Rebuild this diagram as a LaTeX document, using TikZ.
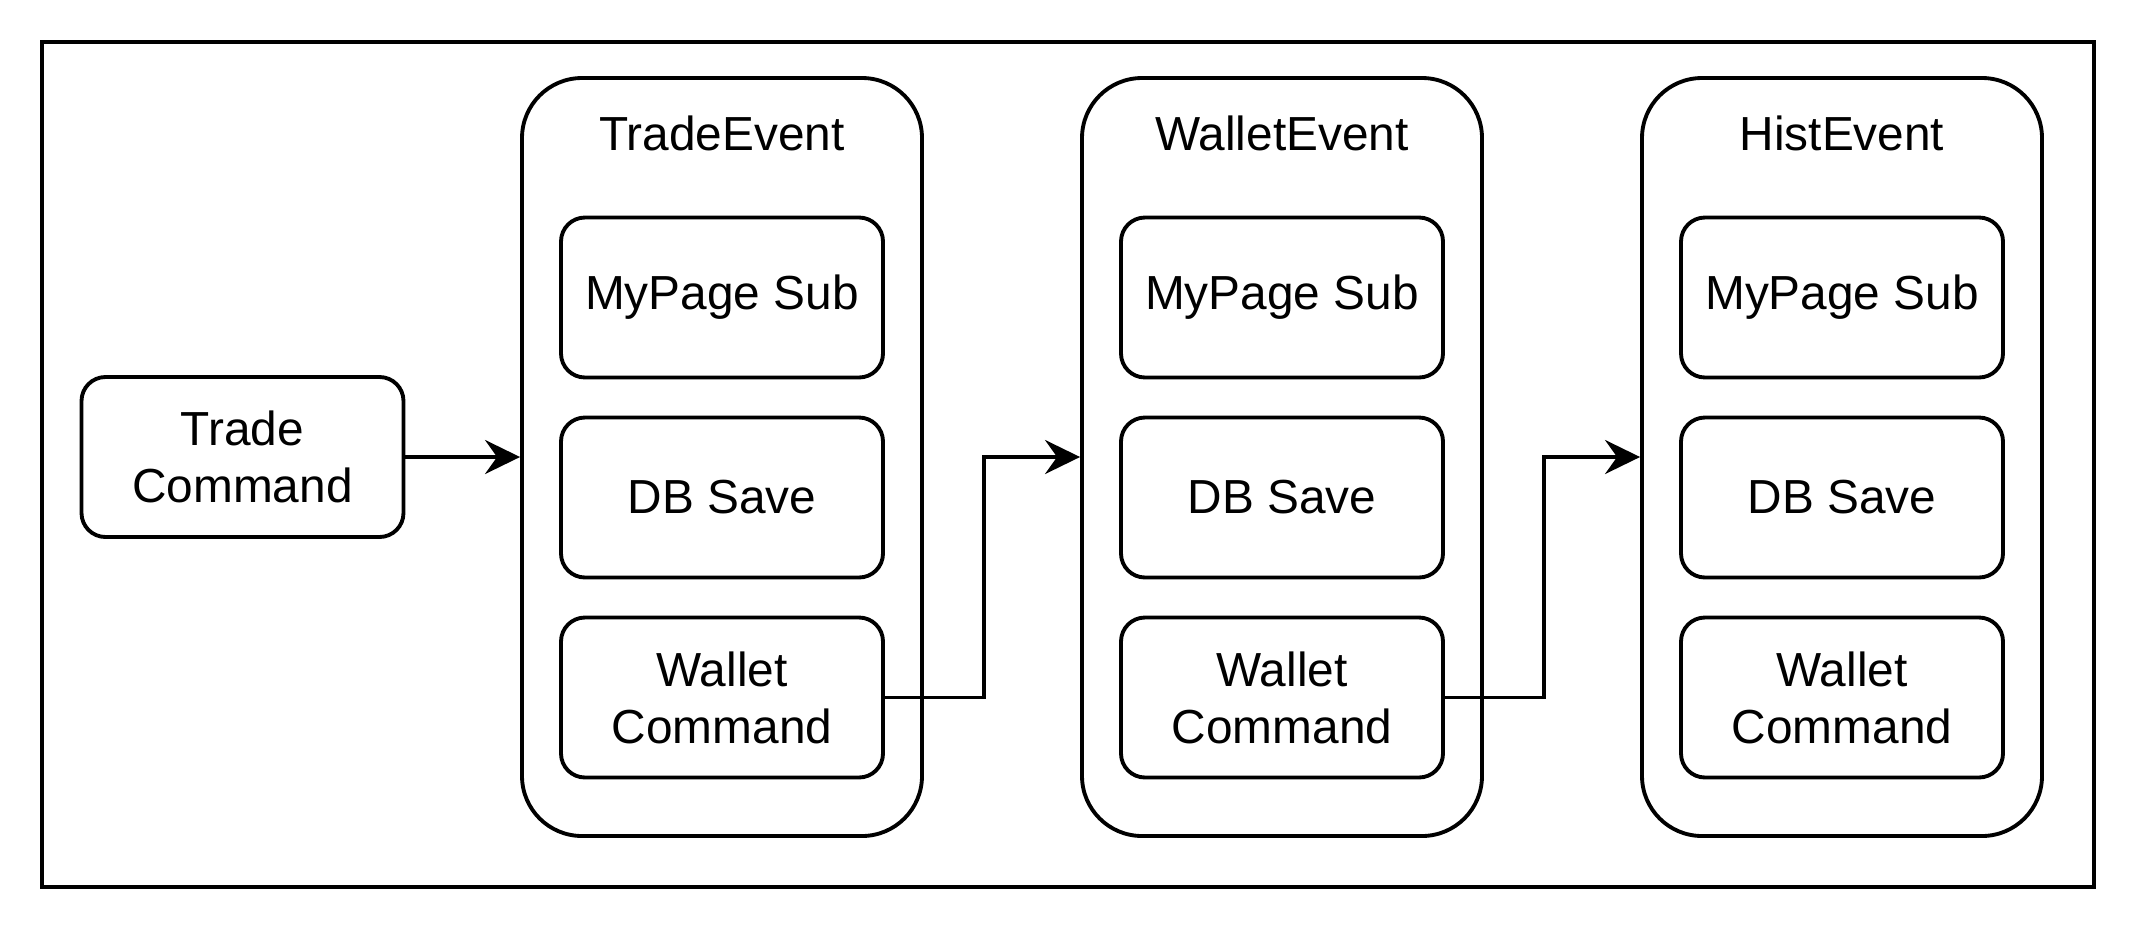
\documentclass[tikz,border=0pt]{standalone}
\usepackage{fontspec}
\setmainfont{Liberation Sans}
\usetikzlibrary{arrows.meta}

\begin{document}
\begin{tikzpicture}[
    line width=1.1pt,
    box/.style={rectangle, draw, rounded corners=0.24cm, minimum width=3.22cm, minimum height=1.6cm, align=center, font=\fontsize{13.6}{16.2}\selectfont},
    eventbox/.style={rectangle, draw, rounded corners=0.6cm, minimum width=4cm, minimum height=7.58cm},
    title/.style={font=\fontsize{13.6}{16.2}\selectfont},
    flow/.style={-{Stealth[length=3.5mm, width=3.4mm, inset=1.2mm]}}
  ]
        \useasboundingbox (0,0) rectangle (21.36,-9.32);

        % Frame
        \node (frame) [rectangle, draw, minimum width=20.52cm, minimum height=8.45cm] at (10.68,-4.645) {};

        % Nodes
        \node (tc) [box] at (2.425,-4.57) {Trade\\Command};

        \node (ev1) [eventbox] at (7.22,-4.57) {};
        \node (t1) [title] at (7.22,-1.335) {TradeEvent};
        \node (ms1) [box] at (7.22,-2.975) {MyPage Sub};
        \node (db1) [box] at (7.22,-4.975) {DB Save};
        \node (wc1) [box] at (7.22,-6.975) {Wallet\\Command};

        \node (ev2) [eventbox] at (12.82,-4.57) {};
        \node (t2) [title] at (12.82,-1.335) {WalletEvent};
        \node (ms2) [box] at (12.82,-2.975) {MyPage Sub};
        \node (db2) [box] at (12.82,-4.975) {DB Save};
        \node (wc2) [box] at (12.82,-6.975) {Wallet\\Command};

        \node (ev3) [eventbox] at (18.42,-4.57) {};
        \node (t3) [title] at (18.42,-1.335) {HistEvent};
        \node (ms3) [box] at (18.42,-2.975) {MyPage Sub};
        \node (db3) [box] at (18.42,-4.975) {DB Save};
        \node (wc3) [box] at (18.42,-6.975) {Wallet\\Command};

        % Edges
        \draw[flow] (tc) -- (ev1);
        \draw[flow] (wc1.east) -- ++(0.99,0) |- (ev2.west);
        \draw[flow] (wc2.east) -- ++(0.99,0) |- (ev3.west);

    \end{tikzpicture}
\end{document}
